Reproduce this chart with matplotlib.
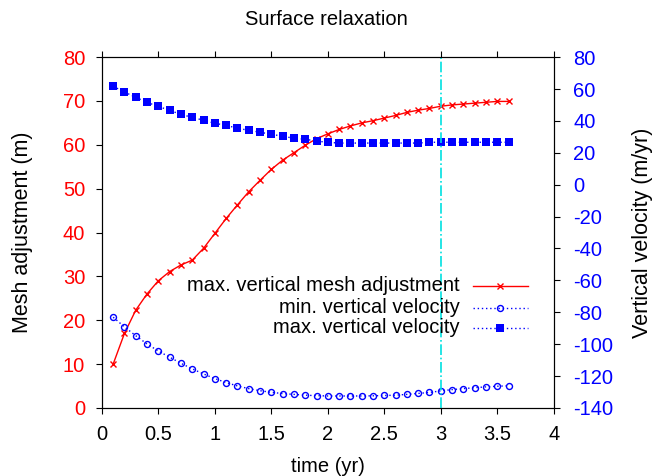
import matplotlib
matplotlib.use('Agg')
import matplotlib.pyplot as plt
from matplotlib.ticker import MultipleLocator, FormatStrFormatter

plt.rcParams['font.family'] = ['Liberation Sans', 'DejaVu Sans']
plt.rcParams['font.size'] = 14.5
plt.rcParams['axes.unicode_minus'] = False

# data
time = [0.1, 0.2, 0.3, 0.4, 0.5, 0.6, 0.7, 0.8, 0.9, 1.0, 1.1, 1.2,
        1.3, 1.4, 1.5, 1.6, 1.7, 1.8, 1.9, 2.0, 2.1, 2.2, 2.3, 2.4,
        2.5, 2.6, 2.7, 2.8, 2.9, 3.0, 3.1, 3.2, 3.3, 3.4, 3.5, 3.6]
mesh_adj = [10.0, 17.0, 22.3, 26.0, 29.0, 31.1, 32.6, 33.7, 36.4, 39.8, 43.2, 46.3,
            49.3, 51.9, 54.4, 56.5, 58.2, 59.9, 61.4, 62.5, 63.5, 64.3, 65.0, 65.5,
            66.1, 66.7, 67.4, 67.9, 68.3, 68.8, 69.1, 69.3, 69.5, 69.7, 69.9, 69.9]
vel_min = [-83.1, -89.2, -94.7, -99.9, -104.3, -108.2, -112.0, -115.5, -118.7, -121.6, -124.1, -126.2,
           -127.9, -129.2, -130.2, -131.0, -131.5, -132.0, -132.3, -132.5, -132.5, -132.5, -132.5, -132.4,
           -132.2, -132.0, -131.5, -130.9, -130.3, -129.3, -128.5, -127.9, -127.3, -126.8, -126.4, -126.1]
vel_max = [61.7, 58.1, 54.8, 51.6, 49.1, 46.6, 44.1, 42.2, 40.4, 38.5, 37.2, 35.4,
           34.1, 32.9, 31.6, 30.4, 29.1, 28.5, 27.3, 26.6, 26.1, 26.1, 26.1, 26.1,
           26.1, 26.1, 26.1, 26.1, 26.6, 26.6, 26.6, 26.6, 26.6, 26.6, 26.6, 26.6]
t_mark = 3.0

labels = ['max. vertical mesh adjustment', 'min. vertical velocity', 'max. vertical velocity']

red = '#ff0000'
blue = '#0000ff'
dots = (0, (1, 2))

fig = plt.figure(figsize=(6.53, 4.76), dpi=100)
ax = fig.add_axes([0.156, 0.143, 0.692, 0.737])
ax2 = ax.twinx()

st_mesh = dict(color=red, lw=1, marker='x', ms=5, mew=1)
st_min = dict(color=blue, lw=1, ls=dots, marker='o', ms=4.3, mfc='none', mew=1)
st_max = dict(color=blue, lw=1, ls=dots, marker='s', ms=5.5, mew=0)

ax.plot(time, mesh_adj, **st_mesh)
ax2.plot(time, vel_min, **st_min)
ax2.plot(time, vel_max, **st_max)
ax2.axvline(t_mark, color='#00e0e0', lw=1.2, ls='-.')

ax.set_xlim(0, 4)
ax.set_ylim(0, 80)
ax2.set_ylim(-140, 80)
ax.xaxis.set_major_locator(MultipleLocator(0.5))
ax.xaxis.set_major_formatter(FormatStrFormatter('%g'))
ax.yaxis.set_major_locator(MultipleLocator(10))
ax2.yaxis.set_major_locator(MultipleLocator(20))

ax.tick_params(axis='x', direction='out', length=4, top=True, pad=8)
ax.tick_params(axis='y', direction='out', length=4, labelcolor=red, pad=8)
ax2.tick_params(axis='y', direction='out', length=4, labelcolor=blue, pad=10)

ax.set_xlabel('time (yr)')
ax.xaxis.set_label_coords(0.5, -0.14)
ax.set_ylabel('Mesh adjustment (m)', fontsize=15.5)
ax.yaxis.set_label_coords(-0.153, 0.5)
ax2.set_ylabel('Vertical velocity (m/yr)', fontsize=15.5)
ax2.yaxis.set_label_coords(1.173, 0.5)
fig.text(0.5, 0.958, 'Surface relaxation', ha='center', va='center')

# gnuplot-style key: right-justified text, sample after it
for y, lab, st in zip([0.348, 0.286, 0.228], labels, [st_mesh, st_min, st_max]):
    ax2.text(0.792, y, lab, transform=ax2.transAxes, ha='right', va='center')
    ax2.plot([0.821, 0.8815, 0.942], [y, y, y], transform=ax2.transAxes,
             markevery=[1], **st)

fig.savefig('out.png', dpi=100)
